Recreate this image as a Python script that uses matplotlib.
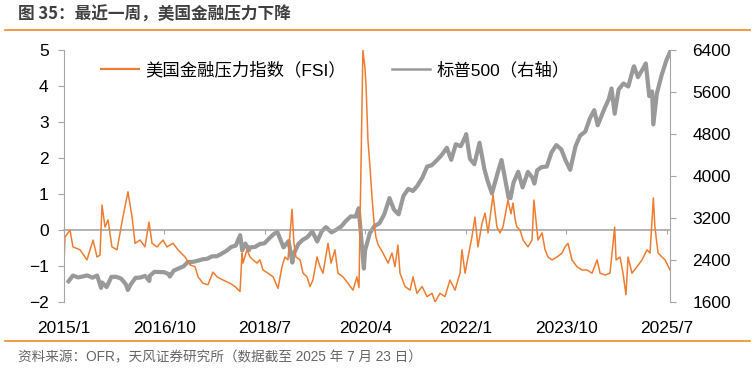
import matplotlib.pyplot as plt
import pandas as pd
from matplotlib.lines import Line2D

plt.rcParams['font.family'] = ['Liberation Sans', 'Noto Sans CJK SC', 'DejaVu Sans']

# 美国金融压力指数 (OFR FSI)
fsi_dates = [
    '2015-01-02', '2015-01-07', '2015-02-08', '2015-02-27', '2015-04-13', '2015-05-27', '2015-07-05',
    '2015-07-30', '2015-08-18', '2015-08-31', '2015-09-19', '2015-10-08', '2015-11-02', '2015-12-04',
    '2015-12-23',
    '2016-01-11', '2016-02-12', '2016-03-09', '2016-03-28', '2016-04-29', '2016-05-30', '2016-06-25',
    '2016-07-14', '2016-08-15', '2016-09-22', '2016-10-17', '2016-11-25', '2016-12-26',
    '2017-02-09', '2017-03-13', '2017-04-14', '2017-05-03', '2017-06-03', '2017-07-05', '2017-08-06',
    '2017-09-01', '2017-10-09', '2017-11-22', '2017-12-24',
    '2018-01-25', '2018-02-07', '2018-02-13', '2018-03-10', '2018-03-30', '2018-04-18', '2018-05-13',
    '2018-06-01', '2018-06-20', '2018-07-22', '2018-08-23', '2018-09-24', '2018-10-19', '2018-11-07',
    '2018-11-26', '2018-12-22',
    '2019-01-03', '2019-01-16', '2019-02-11', '2019-03-02', '2019-03-27', '2019-04-15', '2019-05-04',
    '2019-05-30', '2019-06-18', '2019-07-07', '2019-08-08', '2019-08-27', '2019-09-21', '2019-10-10',
    '2019-11-11', '2019-12-13',
    '2020-01-14', '2020-02-08', '2020-02-21', '2020-03-17', '2020-03-30', '2020-04-06', '2020-04-18',
    '2020-05-01', '2020-05-14', '2020-05-27', '2020-06-08', '2020-06-21', '2020-07-23', '2020-08-24',
    '2020-09-18', '2020-10-07', '2020-10-26', '2020-11-08', '2020-12-10',
    '2021-01-11', '2021-01-30', '2021-02-24', '2021-03-28', '2021-04-29', '2021-05-31', '2021-06-19',
    '2021-07-20', '2021-08-21', '2021-09-22', '2021-10-24', '2021-11-25', '2021-12-07', '2021-12-27',
    '2022-01-15', '2022-02-09', '2022-02-28', '2022-03-19', '2022-04-14', '2022-05-03', '2022-05-22',
    '2022-06-23', '2022-07-18', '2022-08-06', '2022-08-25', '2022-09-26', '2022-10-15', '2022-10-28',
    '2022-11-10', '2022-11-22', '2022-12-12', '2022-12-31',
    '2023-01-31', '2023-02-26', '2023-03-10', '2023-03-23', '2023-04-05', '2023-05-01', '2023-05-20',
    '2023-06-08', '2023-07-03', '2023-08-04', '2023-09-05', '2023-09-24', '2023-10-13', '2023-11-07',
    '2023-12-09',
    '2024-01-10', '2024-02-11', '2024-03-14', '2024-04-15', '2024-05-04', '2024-06-04', '2024-07-06',
    '2024-08-05', '2024-08-14', '2024-09-08', '2024-09-27', '2024-10-16', '2024-10-29', '2024-11-23',
    '2024-12-25',
    '2025-01-26', '2025-02-27', '2025-03-18', '2025-04-08', '2025-04-18', '2025-05-08', '2025-06-02',
    '2025-06-21', '2025-07-23',
]
fsi_values = [
    -0.83, -0.2, 0.0, -0.47, -0.55, -0.83, -0.28, -0.75, -0.7, 0.69, 0.08, 0.28, -0.47, -0.55, -0.1,
    0.36, 1.06, 0.36, -0.37, -0.28, -0.47, 0.22, -0.37, -0.47, -0.28, -0.47, -0.37, -0.55,
    -0.75, -0.97, -1.02, -1.3, -1.48, -1.52, -1.17, -1.3, -1.39, -1.48, -1.57,
    -1.71, -0.64, -0.92, -0.55, -0.75, -0.83, -0.92, -0.83, -1.11, -1.2, -1.3, -1.62, -1.02, -0.75,
    -0.83, 0.58,
    -0.37, -0.75, -0.83, -1.2, -1.3, -1.57, -1.39, -0.75, -1.02, -1.2, -0.37, -0.92, -0.55, -1.2,
    -1.3, -1.48,
    -1.67, -1.3, -1.6, 5.0, 4.5, 4.0, 2.5, 1.75, 0.9, 0.2, -0.2, -0.4, -0.64, -0.92, -0.64, -1.02,
    -0.42, -1.2, -1.57,
    -1.67, -1.3, -1.76, -1.57, -1.85, -1.76, -2.0, -1.76, -1.85, -1.39, -1.67, -1.2, -0.55, -1.2,
    -0.75, -0.19, 0.36, -0.47, 0.19, 0.47, -0.08, 0.97, 0.08, -0.08, 0.08, 0.83, 0.45, 0.75, 0.3,
    0.08, 0.0, -0.28,
    -0.47, -0.28, 0.83, 0.28, -0.28, -0.08, -0.55, -0.75, -0.83, -0.75, -0.64, -0.47, -0.37, -0.83,
    -1.02,
    -1.11, -1.11, -1.2, -0.83, -1.2, -1.25, -1.2, 0.08, -0.83, -0.75, -1.2, -1.8, -0.75, -1.2, -1.02,
    -0.83, -0.55, -0.64, 0.89, 0.08, -0.64, -0.75, -0.83, -1.11,
]

# 标普500
sp_dates = [
    '2015-01-30', '2015-02-27', '2015-03-31', '2015-04-30', '2015-05-29', '2015-06-30', '2015-07-31',
    '2015-08-25', '2015-08-31', '2015-09-29', '2015-10-30', '2015-11-30', '2015-12-31',
    '2016-01-29', '2016-02-11', '2016-02-29', '2016-03-31', '2016-04-29', '2016-05-31', '2016-06-27',
    '2016-06-30', '2016-07-29', '2016-08-31', '2016-09-30', '2016-10-31', '2016-11-04', '2016-11-30',
    '2016-12-30',
    '2017-01-31', '2017-02-28', '2017-03-31', '2017-04-28', '2017-05-31', '2017-06-30', '2017-07-31',
    '2017-08-31', '2017-09-29', '2017-10-31', '2017-11-30', '2017-12-29',
    '2018-01-26', '2018-02-08', '2018-02-28', '2018-03-23', '2018-03-29', '2018-04-30', '2018-05-31',
    '2018-06-29', '2018-07-31', '2018-08-31', '2018-09-20', '2018-10-29', '2018-11-30', '2018-12-24',
    '2018-12-31',
    '2019-01-31', '2019-02-28', '2019-03-29', '2019-04-30', '2019-05-31', '2019-06-28', '2019-07-26',
    '2019-08-30', '2019-09-30', '2019-10-31', '2019-11-29', '2019-12-31',
    '2020-01-31', '2020-02-19', '2020-03-23', '2020-03-31', '2020-04-30', '2020-05-29', '2020-06-30',
    '2020-07-31', '2020-09-02', '2020-09-30', '2020-10-30', '2020-11-30', '2020-12-31',
    '2021-01-29', '2021-02-26', '2021-03-31', '2021-04-30', '2021-05-28', '2021-06-30', '2021-07-30',
    '2021-09-02', '2021-09-30', '2021-10-29', '2021-11-30', '2021-12-31',
    '2022-01-03', '2022-01-27', '2022-02-24', '2022-03-29', '2022-04-29', '2022-05-20', '2022-06-16',
    '2022-07-29', '2022-08-16', '2022-09-30', '2022-10-12', '2022-10-31', '2022-11-30', '2022-12-28',
    '2023-01-31', '2023-02-28', '2023-03-13', '2023-03-31', '2023-04-28', '2023-05-31', '2023-06-30',
    '2023-07-31', '2023-08-31', '2023-09-29', '2023-10-27', '2023-11-30', '2023-12-29',
    '2024-01-31', '2024-02-29', '2024-03-28', '2024-04-19', '2024-05-31', '2024-06-28', '2024-07-16',
    '2024-08-05', '2024-08-30', '2024-09-30', '2024-10-31', '2024-11-29', '2024-12-06', '2024-12-31',
    '2025-01-31', '2025-02-19', '2025-03-13', '2025-03-31', '2025-04-08', '2025-04-30', '2025-05-30',
    '2025-06-30', '2025-07-23',
]
sp_values = [
    1995, 2105, 2068, 2086, 2107, 2063, 2104, 1868, 1972, 1884, 2079, 2080, 2044,
    1940, 1829, 1932, 2060, 2065, 2097, 2001, 2099, 2174, 2171, 2168, 2126, 2085, 2199, 2239,
    2279, 2364, 2363, 2384, 2412, 2423, 2470, 2472, 2519, 2575, 2648, 2674,
    2873, 2581, 2714, 2588, 2641, 2648, 2705, 2718, 2816, 2902, 2930, 2641, 2760, 2351, 2507,
    2704, 2784, 2834, 2946, 2752, 2942, 3026, 2926, 2977, 3038, 3141, 3231,
    3226, 3386, 2237, 2585, 2912, 3044, 3100, 3271, 3580, 3363, 3270, 3622, 3756,
    3714, 3811, 3973, 4181, 4204, 4298, 4395, 4537, 4308, 4605, 4567, 4766,
    4797, 4326, 4225, 4632, 4132, 3901, 3667, 4130, 4305, 3586, 3577, 3872, 4080, 3783,
    4077, 3970, 3855, 4109, 4169, 4180, 4450, 4589, 4508, 4288, 4117, 4568, 4770,
    4846, 5096, 5254, 4967, 5278, 5460, 5667, 5186, 5648, 5762, 5705, 6032, 6090, 5882,
    6041, 6144, 5521, 5612, 4983, 5569, 5912, 6205, 6359,
]

xtick_dates = ['2015-01-01', '2016-10-01', '2018-07-01', '2020-04-01', '2022-01-01', '2023-10-01', '2025-07-01']
xtick_labels = ['2015/1', '2016/10', '2018/7', '2020/4', '2022/1', '2023/10', '2025/7']

ORANGE = '#ED7D31'
GRAY = '#999999'
AXIS_GRAY = '#A6A6A6'
RULE = '#F39336'

fig = plt.figure(figsize=(7.54, 3.72), dpi=100)
ax = fig.add_axes([64 / 754, 70 / 372, 606 / 754, 252 / 372])
ax2 = ax.twinx()

ax2.plot(pd.to_datetime(sp_dates), sp_values, color=GRAY, lw=3.0, solid_joinstyle='round')
ax.plot(pd.to_datetime(fsi_dates), fsi_values, color=ORANGE, lw=1.1)

# FSI on top of the grey line
ax.set_zorder(ax2.get_zorder() + 1)
ax.patch.set_visible(False)

ax.set_xlim(pd.Timestamp('2015-01-01'), pd.Timestamp('2025-07-23'))
ax.set_ylim(-2, 5)
ax.set_yticks(range(-2, 6))
ax2.set_ylim(1600, 6400)
ax2.set_yticks(range(1600, 6401, 800))

for s in ['top', 'bottom', 'right']:
    ax.spines[s].set_visible(False)
for s in ['top', 'bottom', 'left']:
    ax2.spines[s].set_visible(False)
ax.spines['left'].set_color(AXIS_GRAY)
ax2.spines['right'].set_color(AXIS_GRAY)

ax.tick_params(axis='y', direction='out', length=4, color=AXIS_GRAY, labelsize=12.5, pad=7)
ax2.tick_params(axis='y', direction='out', length=4, color=AXIS_GRAY, labelsize=12.5, pad=12)

ax.set_xticks(pd.to_datetime(xtick_dates))
ax.set_xticklabels(xtick_labels)
ax.tick_params(axis='x', length=0, labelsize=12.5, pad=14)

# zero line with the small date ticks
sec = ax.secondary_xaxis(2 / 7)
sec.set_xticks(pd.to_datetime(xtick_dates))
sec.set_xticklabels([])
sec.tick_params(axis='x', direction='out', length=3, color=AXIS_GRAY)
sec.spines['bottom'].set_color(AXIS_GRAY)
sec.spines['bottom'].set_linewidth(1.2)

handles = [Line2D([], [], color=ORANGE, lw=1.6), Line2D([], [], color=GRAY, lw=1.8)]
ax.legend(handles, ['美国金融压力指数（FSI）', '标普500（右轴）'],
          loc='upper left', bbox_to_anchor=(0.046, 0.99), ncol=2, frameon=False,
          handlelength=2.2, handletextpad=0.4, columnspacing=2.6, borderpad=0, fontsize=12.5)

fig.text(18 / 754, 1 - 15 / 372, '图 35：最近一周，美国金融压力下降', fontsize=12, weight='bold',
         color='#404040', va='center', family=['Noto Sans CJK SC', 'DejaVu Sans'])
fig.add_artist(Line2D([5 / 754, 750 / 754], [1 - 30 / 372] * 2, color=RULE, lw=1.3))
fig.add_artist(Line2D([5 / 754, 750 / 754], [1 - 341 / 372] * 2, color=RULE, lw=1.3))
fig.text(18 / 754, 1 - 357 / 372, '资料来源：OFR，天风证券研究所（数据截至 2025 年 7 月 23 日）',
         fontsize=9.8, color='#666666', va='center')

fig.savefig('out.png', dpi=100)
